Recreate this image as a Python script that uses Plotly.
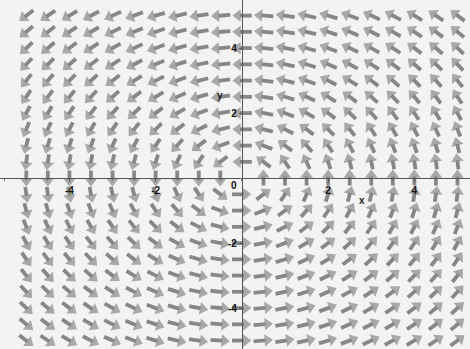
import math
import plotly.graph_objects as go

# grid of sample points
x_vals = [-5.0, -4.5, -4.0, -3.5, -3.0, -2.5, -2.0, -1.5, -1.0, -0.5, 0.0,
          0.5, 1.0, 1.5, 2.0, 2.5, 3.0, 3.5, 4.0, 4.5, 5.0]
y_vals = [-5.0, -4.5, -4.0, -3.5, -3.0, -2.5, -2.0, -1.5, -1.0, -0.5, 0.0,
          0.5, 1.0, 1.5, 2.0, 2.5, 3.0, 3.5, 4.0, 4.5, 5.0]
x_ticks = [-4, -2, 2, 4]
x_tick_text = ["<b>-4</b>", "<b>-2</b>", "<b>2</b>", "<b>4</b>"]
y_ticks = [-4, -2, 2, 4]
y_tick_text = ["<b>-4</b>", "<b>-2</b>", "<b>2</b>", "<b>4</b>"]


def field(x, y):
    # rotational field F(x, y) = (-y, x)
    return -y, x


XR = [-5.61, 5.29]
YR = [-5.26, 5.48]
L = 0.46
COLOR = "#878787"

sx, sy, hx, hy = [], [], [], []
for x in x_vals:
    for y in y_vals:
        u, v = field(x, y)
        n = math.hypot(u, v)
        if n == 0:
            continue
        u, v = u / n, v / n
        tx, ty = x - 0.5 * L * u, y - 0.5 * L * v
        ex, ey = x + 0.10 * L * u, y + 0.10 * L * v
        cx, cy = x + 0.20 * L * u, y + 0.20 * L * v
        sx += [tx, ex, None]
        sy += [ty, ey, None]
        hx += [ex, cx]
        hy += [ey, cy]

sizes = [0, 11] * (len(hx) // 2)

fig = go.Figure()
fig.add_trace(go.Scatter(x=sx, y=sy, mode="lines",
                         line=dict(color=COLOR, width=3.8),
                         hoverinfo="skip", showlegend=False))
fig.add_trace(go.Scatter(x=hx, y=hy, mode="markers",
                         marker=dict(symbol="triangle-up", size=sizes, color=COLOR,
                                     angleref="previous", line=dict(width=0)),
                         hoverinfo="skip", showlegend=False))

fig.add_annotation(x=2.78, y=-0.68, text="<b>x</b>", showarrow=False,
                   font=dict(size=10, color="#222"))
fig.add_annotation(x=-0.51, y=2.55, text="<b>y</b>", showarrow=False,
                   font=dict(size=10, color="#222"))
fig.add_annotation(x=-0.18, y=-0.22, text="<b>0</b>", showarrow=False,
                   font=dict(size=10, color="#111"))

fig.update_layout(
    width=470, height=349,
    margin=dict(l=0, r=0, t=0, b=0),
    paper_bgcolor="#f3f3f3", plot_bgcolor="#f3f3f3",
    font=dict(family="Liberation Sans", size=10, color="#111"),
    hovermode=False,
    xaxis=dict(range=XR, anchor="free", position=(0 - YR[0]) / (YR[1] - YR[0]),
               showline=True, linecolor="#555", linewidth=1,
               ticks="outside", ticklen=3, tickcolor="#555",
               tickvals=x_ticks, ticktext=x_tick_text,
               showgrid=False, zeroline=False,
               minor=dict(ticks="outside", dtick=0.5, ticklen=2, tickcolor="#777")),
    yaxis=dict(range=YR, anchor="free", position=(0 - XR[0]) / (XR[1] - XR[0]),
               showline=True, linecolor="#555", linewidth=1,
               ticks="outside", ticklen=3, tickcolor="#555",
               tickvals=y_ticks, ticktext=y_tick_text,
               showgrid=False, zeroline=False,
               minor=dict(ticks="outside", dtick=0.5, ticklen=2, tickcolor="#777")),
)

fig.write_html("out.html", config={"displayModeBar": False},
               post_script="document.body.style.margin='0';")
